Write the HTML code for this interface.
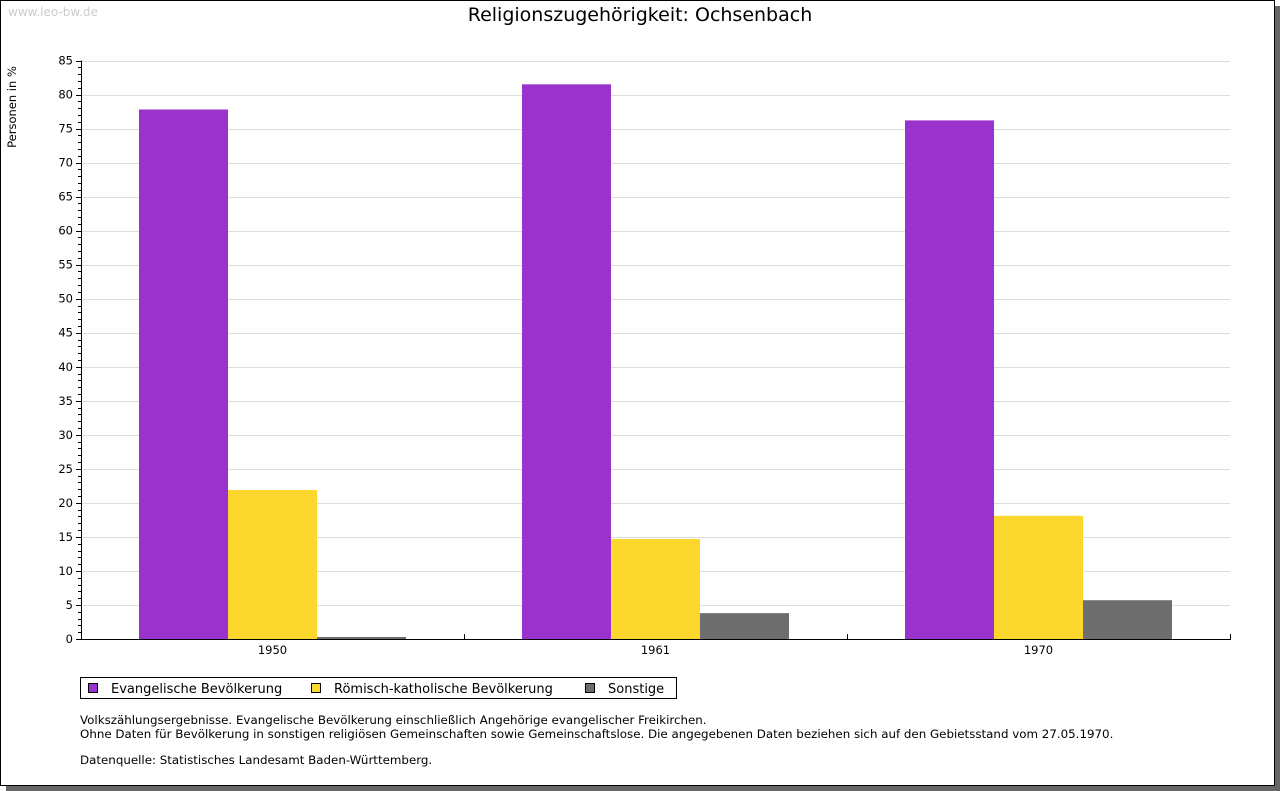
<!DOCTYPE html>
<html><head><meta charset="utf-8"><style>
body{margin:0;background:#fff;width:1280px;height:791px;overflow:hidden;font-family:"DejaVu Sans","Liberation Sans",sans-serif}
svg{display:block}
</style></head><body>
<svg width="1280" height="791" font-family="DejaVu Sans, Liberation Sans, sans-serif">
<rect x="6" y="6" width="1274" height="785" fill="#666"/>
<rect x="0.5" y="0.5" width="1274" height="785" fill="#fff" stroke="#000"/>
<text x="8" y="16" font-size="12" fill="#ccc">www.leo-bw.de</text>
<text x="640" y="21" font-size="19" text-anchor="middle">Religionszugehörigkeit: Ochsenbach</text>
<text transform="translate(16,107) rotate(-90)" font-size="11.5" text-anchor="middle">Personen in %</text>
<g id="grid"></g><g id="bars"></g><g id="axes"></g>
<g>
<rect x="80.5" y="677.5" width="596" height="21" fill="#fff" stroke="#000"/>
<rect x="88.5" y="683.5" width="9" height="9" fill="#9933cc" stroke="#000"/>
<text x="111" y="693" font-size="13">Evangelische Bevölkerung</text>
<rect x="311.5" y="683.5" width="9" height="9" fill="#fcd72d" stroke="#000"/>
<text x="334" y="693" font-size="13">Römisch-katholische Bevölkerung</text>
<rect x="585.5" y="683.5" width="9" height="9" fill="#6e6e6e" stroke="#000"/>
<text x="608" y="693" font-size="13">Sonstige</text>
</g>
<g font-size="11.85">
<text x="80" y="724">Volkszählungsergebnisse. Evangelische Bevölkerung einschließlich Angehörige evangelischer Freikirchen.</text>
<text x="80" y="738">Ohne Daten für Bevölkerung in sonstigen religiösen Gemeinschaften sowie Gemeinschaftslose. Die angegebenen Daten beziehen sich auf den Gebietsstand vom 27.05.1970.</text>
<text x="80" y="764">Datenquelle: Statistisches Landesamt Baden-Württemberg.</text>
</g>
</svg>
<script>
const categories=["1950","1961","1970"];
const evangelisch=[77.8,81.5,76.2];
const katholisch=[21.9,14.7,18.1];
const sonstige=[0.3,3.8,5.7];
const yTicks=[0,5,10,15,20,25,30,35,40,45,50,55,60,65,70,75,80,85];
const colors=["#9933cc","#fcd72d","#6e6e6e"];
const seriesNames=["evangelisch","katholisch","sonstige"];
const NS="http://www.w3.org/2000/svg";
const L=81,R=1230,T=60.5,B=639,YMAX=85;
const y=v=>B-(v/YMAX)*(B-T);
const cw=(R-L)/categories.length;
const xc=i=>L+cw*(i+0.5);
function mk(t,a,p){const e=document.createElementNS(NS,t);for(const k in a)e.setAttribute(k,a[k]);p.appendChild(e);return e;}
const grid=document.getElementById('grid'),bars=document.getElementById('bars'),axes=document.getElementById('axes');
yTicks.forEach(v=>{
 if(v>0){const g=mk('line',{x1:L,x2:R,y1:Math.round(y(v))+0.5,y2:Math.round(y(v))+0.5,stroke:'#ddd'},grid);
 
 }
 const t=mk('text',{x:73,y:y(v)+4,'font-size':11.5,'text-anchor':'end'},axes);t.textContent=v;
 
 
});
for(let v=0;v<=YMAX;v++){const yy=Math.round(y(v))+0.5;mk('line',{x1:v%5?78:76,x2:L,y1:yy,y2:yy,stroke:'#000'},axes);}
const series=[evangelisch,katholisch,sonstige];
const bw=89;
categories.forEach((c,i)=>{
 series.forEach((s,j)=>{
  const x0=xc(i)-bw*1.5+j*bw;
  const r=mk('rect',{x:x0,y:y(s[i]),width:bw,height:B-y(s[i]),fill:colors[j]},bars);
  
  
 });
 const t=mk('text',{x:xc(i),y:654,'font-size':11.5,'text-anchor':'middle'},axes);t.textContent=c;
 
 
 const xt=Math.round(L+cw*(i+1))+0.5;mk('line',{x1:xt,x2:xt,y1:B-5,y2:B,stroke:'#000'},axes);
});
const ya=mk('line',{x1:L+0.5,x2:L+0.5,y1:T,y2:B,stroke:'#000'},axes);


const xa=mk('line',{x1:L,x2:R+1,y1:B+0.5,y2:B+0.5,stroke:'#000'},axes);


</script>
</body></html>
